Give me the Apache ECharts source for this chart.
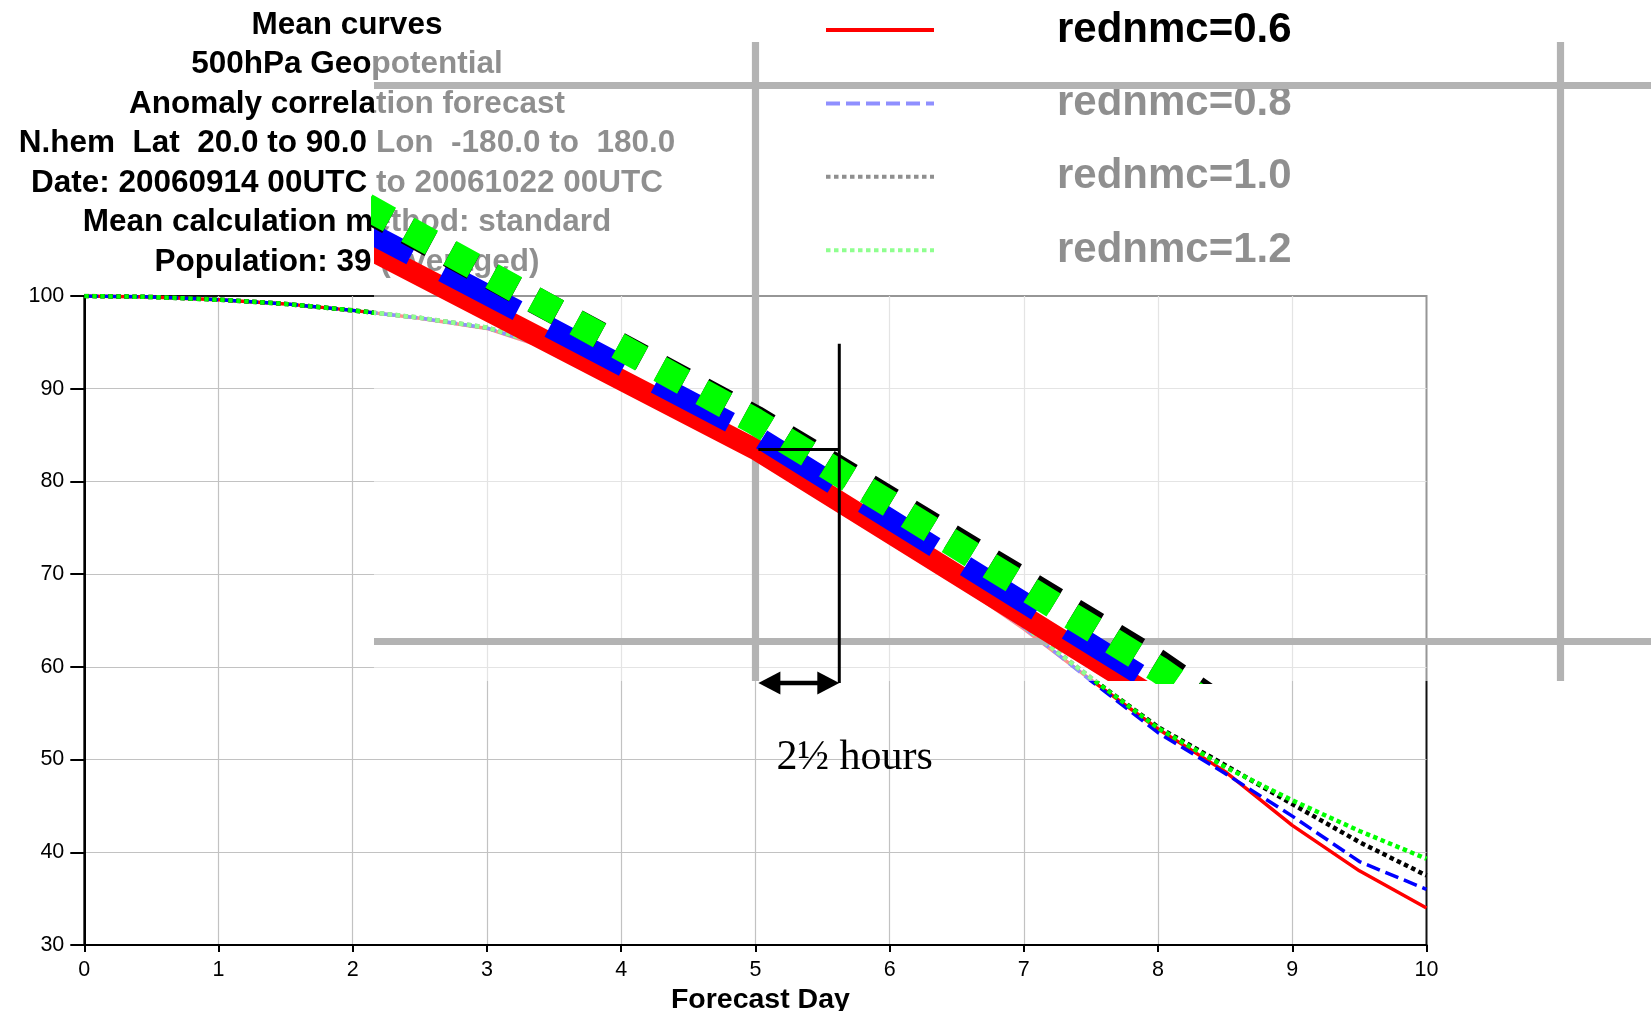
<!DOCTYPE html>
<html>
<head>
<meta charset="utf-8">
<title>Mean curves - 500hPa Geopotential anomaly correlation</title>
<script src="https://cdn.jsdelivr.net/npm/echarts@6/dist/echarts.min.js"></script>
<style>
  html, body { margin: 0; padding: 0; background: #ffffff; }
  #chart { width: 1651px; height: 1011px; }
</style>
</head>
<body>
<div id="chart"></div>
<script>
// Forecast lead time (days) and mean anomaly correlation (%) for each experiment
const days  = [0, 0.5, 1, 1.5, 2, 2.5, 3, 3.5, 4, 4.5, 5, 5.5, 6, 6.5, 7, 7.5, 8, 8.5, 9, 9.5, 10];
const acc06 = [100.0, 99.9, 99.6, 99.15, 98.45, 97.6, 96.5, 94.1, 91.0, 87.2, 83.45, 78.95, 74.0, 69.1, 64.1, 58.6, 53.3, 48.7, 42.9, 38.0, 34.0];
const acc08 = [100.0, 99.9, 99.6, 99.15, 98.45, 97.62, 96.55, 94.25, 91.25, 87.5, 83.7, 79.2, 74.25, 69.3, 64.25, 58.5, 52.9, 48.5, 43.9, 39.0, 36.0];
const acc10 = [100.0, 99.9, 99.6, 99.15, 98.45, 97.65, 96.6, 94.4, 91.55, 87.9, 84.0, 79.62, 74.6, 69.6, 64.5, 58.8, 53.5, 49.4, 45.2, 41.1, 37.5];
const acc12 = [100.0, 99.9, 99.6, 99.15, 98.45, 97.65, 96.6, 94.4, 91.55, 87.95, 83.95, 79.5, 74.5, 69.5, 64.4, 58.8, 53.4, 49.2, 45.6, 42.3, 39.3];

const seriesNames = ['rednmc=0.6', 'rednmc=0.8', 'rednmc=1.0', 'rednmc=1.2'];
const titleLines = [
  'Mean curves',
  '500hPa Geopotential',
  'Anomaly correlation forecast',
  'N.hem  Lat  20.0 to 90.0 Lon  -180.0 to  180.0',
  'Date: 20060914 00UTC to 20061022 00UTC',
  'Mean calculation method: standard',
  'Population: 39 (averaged)'
];
const xAxisName = 'Forecast Day';
const dayTicks = { min: 0, max: 10, interval: 1 };
const accTicks = { min: 30, max: 100, interval: 10 };

// Magnifier centred on the rednmc=0.6 curve at day 5, with the lead-time gain marker
const focusDay = 5;
const gainHours = 2.5;
const gainLabel = '2½ hours';
const gainMarkTop = 85.35;   // ACC (magnified axes) where the vertical gain marker begins

// ---- layout ----
const MAIN  = { left: 84.3, top: 296, right: 1426.5, bottom: 945 };
const INSET = { left: 374, top: 42, right: 1651, bottom: 681 };
const MAG = 6;

const lineLooks = [
  { color: '#ff0000', width: 3.5, dash: null },
  { color: '#0000ff', width: 3.5, dash: [14, 6] },
  { color: '#000000', width: 4.5, dash: [4.5, 3.5] },
  { color: '#00ff00', width: 4.5, dash: [4.5, 3.5] }
];
const gridColor = '#c2c2c2';
const gridWidth = 1.2;

const pxPerDay = (MAIN.right - MAIN.left) / (dayTicks.max - dayTicks.min);
const pxPerAcc = (MAIN.bottom - MAIN.top) / (accTicks.max - accTicks.min);
const focusAcc = acc06[days.indexOf(focusDay)];
const Fx = MAIN.left + (focusDay - dayTicks.min) * pxPerDay;
const Fy = MAIN.top + (accTicks.max - focusAcc) * pxPerAcc;
// line series are clipped to their grid grown by half the line width
const pad = lineLooks[0].width * MAG / 2;
const MAGRECT = { left: INSET.left + pad, top: INSET.top + pad, right: INSET.right - pad, bottom: INSET.bottom - pad };
const dayAt = X => focusDay + (X - Fx) / (MAG * pxPerDay);
const accAt = Y => focusAcc - (Y - Fy) / (MAG * pxPerAcc);

// magnified copies of the main grid lines, spanning the whole inset
const magGrid = [];
for (let d = Math.ceil(dayAt(INSET.left)); d <= Math.floor(dayAt(INSET.right)); d += dayTicks.interval) {
  magGrid.push({ coords: [[d, accAt(INSET.bottom)], [d, accAt(INSET.top)]] });
}
for (let a = Math.ceil(accAt(INSET.bottom) / accTicks.interval) * accTicks.interval; a <= accAt(INSET.top); a += accTicks.interval) {
  magGrid.push({ coords: [[dayAt(INSET.left), a], [dayAt(INSET.right), a]] });
}

const curves = [acc06, acc08, acc10, acc12].map(vals => days.map((d, i) => [d, vals[i]]));

const series = [];
curves.forEach((data, i) => {
  const look = lineLooks[i];
  series.push({
    type: 'line', name: seriesNames[i], xAxisIndex: 0, yAxisIndex: 0, data,
    symbol: 'none', z: 2, silent: true, animation: false,
    itemStyle: { color: look.color },
    lineStyle: { color: look.color, width: look.width, type: look.dash || 'solid', cap: 'butt' }
  });
});
series.push({
  type: 'lines', name: 'magnified grid', coordinateSystem: 'cartesian2d', xAxisIndex: 1, yAxisIndex: 1,
  clip: false, z: 12, silent: true, animation: false,
  lineStyle: { color: '#b3b3b3', width: gridWidth * MAG, opacity: 1, cap: 'butt' },
  data: magGrid
});
curves.forEach((data, i) => {
  const look = lineLooks[i];
  series.push({
    type: 'line', name: seriesNames[i], xAxisIndex: 1, yAxisIndex: 1, data,
    symbol: 'none', z: 14, silent: true, animation: false,
    itemStyle: { color: look.color },
    lineStyle: {
      color: look.color, width: look.width * MAG, cap: 'butt',
      type: look.dash ? look.dash.map(v => v * MAG) : 'solid'
    }
  });
});

const sans = '"Liberation Sans", Arial, Helvetica, sans-serif';

const option = {
  backgroundColor: '#ffffff',
  animation: false,
  title: {
    text: titleLines.join('\n'),
    left: 347, top: 5.5, padding: 0, textAlign: 'center',
    textStyle: { fontFamily: sans, fontWeight: 'bold', fontSize: 31.5, lineHeight: 39.5, color: '#000' }
  },
  legend: {
    data: seriesNames, orient: 'vertical', left: 824, top: 9, padding: 0,
    itemWidth: 108, itemHeight: 30, itemGap: 31.4, selectedMode: false,
    lineStyle: { width: 4 },
    itemStyle: { opacity: 0 },
    textStyle: { fontFamily: sans, fontWeight: 'bold', fontSize: 42, lineHeight: 30, color: '#000', padding: [0, 0, 0, 118] }
  },
  grid: [
    { left: MAIN.left, top: MAIN.top, width: MAIN.right - MAIN.left, height: MAIN.bottom - MAIN.top,
      containLabel: false, outerBoundsMode: 'none', show: true, borderColor: '#111', borderWidth: 2, backgroundColor: 'transparent' },
    { left: MAGRECT.left, top: MAGRECT.top, width: MAGRECT.right - MAGRECT.left, height: MAGRECT.bottom - MAGRECT.top,
      containLabel: false, outerBoundsMode: 'none', show: false }
  ],
  xAxis: [
    { gridIndex: 0, type: 'value', min: dayTicks.min, max: dayTicks.max, interval: dayTicks.interval,
      name: xAxisName, nameLocation: 'middle', nameGap: 34,
      nameTextStyle: { fontFamily: sans, fontWeight: 'bold', fontSize: 28.5, color: '#000', padding: [0, 0, 0, 10] },
      axisLine: { show: true, onZero: false, lineStyle: { color: '#000', width: 2 } },
      axisTick: { show: true, length: 7, lineStyle: { color: '#000', width: 2 } },
      axisLabel: { fontFamily: sans, fontSize: 21.5, color: '#000', margin: 14 },
      splitLine: { show: true, showMinLine: false, showMaxLine: false, lineStyle: { color: gridColor, width: gridWidth } } },
    { gridIndex: 1, type: 'value', min: dayAt(MAGRECT.left), max: dayAt(MAGRECT.right), show: false }
  ],
  yAxis: [
    { gridIndex: 0, type: 'value', min: accTicks.min, max: accTicks.max, interval: accTicks.interval,
      axisLine: { show: true, onZero: false, lineStyle: { color: '#000', width: 2 } },
      axisTick: { show: true, length: 14, lineStyle: { color: '#000', width: 2 } },
      axisLabel: { fontFamily: sans, fontSize: 21.5, color: '#000', margin: 20 },
      splitLine: { show: true, showMinLine: false, showMaxLine: false, lineStyle: { color: gridColor, width: gridWidth } } },
    { gridIndex: 1, type: 'value', min: accAt(MAGRECT.bottom), max: accAt(MAGRECT.top), show: false }
  ],
  series
};

const chart = echarts.init(document.getElementById('chart'), null, { renderer: 'canvas' });
chart.setOption(option);

// Inset veil and the lead-time gain marker, placed through the magnified axes
const magPt = (d, a) => chart.convertToPixel({ xAxisIndex: 1, yAxisIndex: 1 }, [d, a]);
const [gx0, gy0] = magPt(focusDay, focusAcc);
const [gx1] = magPt(focusDay + gainHours / 24, focusAcc);
const [, markTopY] = magPt(focusDay + gainHours / 24, gainMarkTop);
const arrowY = INSET.bottom + 2;
const head = 22, headHalf = 11.5;
const tipL = gx0 + 3, tipR = gx1;

chart.setOption({
  graphic: { elements: [
    { id: 'veil', type: 'rect', silent: true, z: 10,
      shape: { x: INSET.left, y: INSET.top, width: INSET.right - INSET.left, height: INSET.bottom - INSET.top },
      style: { fill: 'rgba(255,255,255,0.56)' } },
    { id: 'gainH', type: 'line', silent: true, z: 20,
      shape: { x1: tipL, y1: gy0, x2: gx1, y2: gy0 }, style: { stroke: '#000', lineWidth: 3 } },
    { id: 'gainV', type: 'line', silent: true, z: 20,
      shape: { x1: gx1, y1: markTopY, x2: gx1, y2: arrowY }, style: { stroke: '#000', lineWidth: 3 } },
    { id: 'arrowShaft', type: 'line', silent: true, z: 20,
      shape: { x1: tipL + head - 2, y1: arrowY, x2: tipR - head + 2, y2: arrowY }, style: { stroke: '#000', lineWidth: 4.5 } },
    { id: 'arrowL', type: 'polygon', silent: true, z: 20,
      shape: { points: [[tipL, arrowY], [tipL + head, arrowY - headHalf], [tipL + head, arrowY + headHalf]] }, style: { fill: '#000' } },
    { id: 'arrowR', type: 'polygon', silent: true, z: 20,
      shape: { points: [[tipR, arrowY], [tipR - head, arrowY - headHalf], [tipR - head, arrowY + headHalf]] }, style: { fill: '#000' } },
    { id: 'gainText', type: 'text', silent: true, z: 20, x: tipL + 18, y: arrowY + 75,
      style: { text: gainLabel, font: '42px "Liberation Serif", "DejaVu Serif", serif', fill: '#000', align: 'left', verticalAlign: 'middle' } }
  ] }
});
</script>
</body>
</html>
